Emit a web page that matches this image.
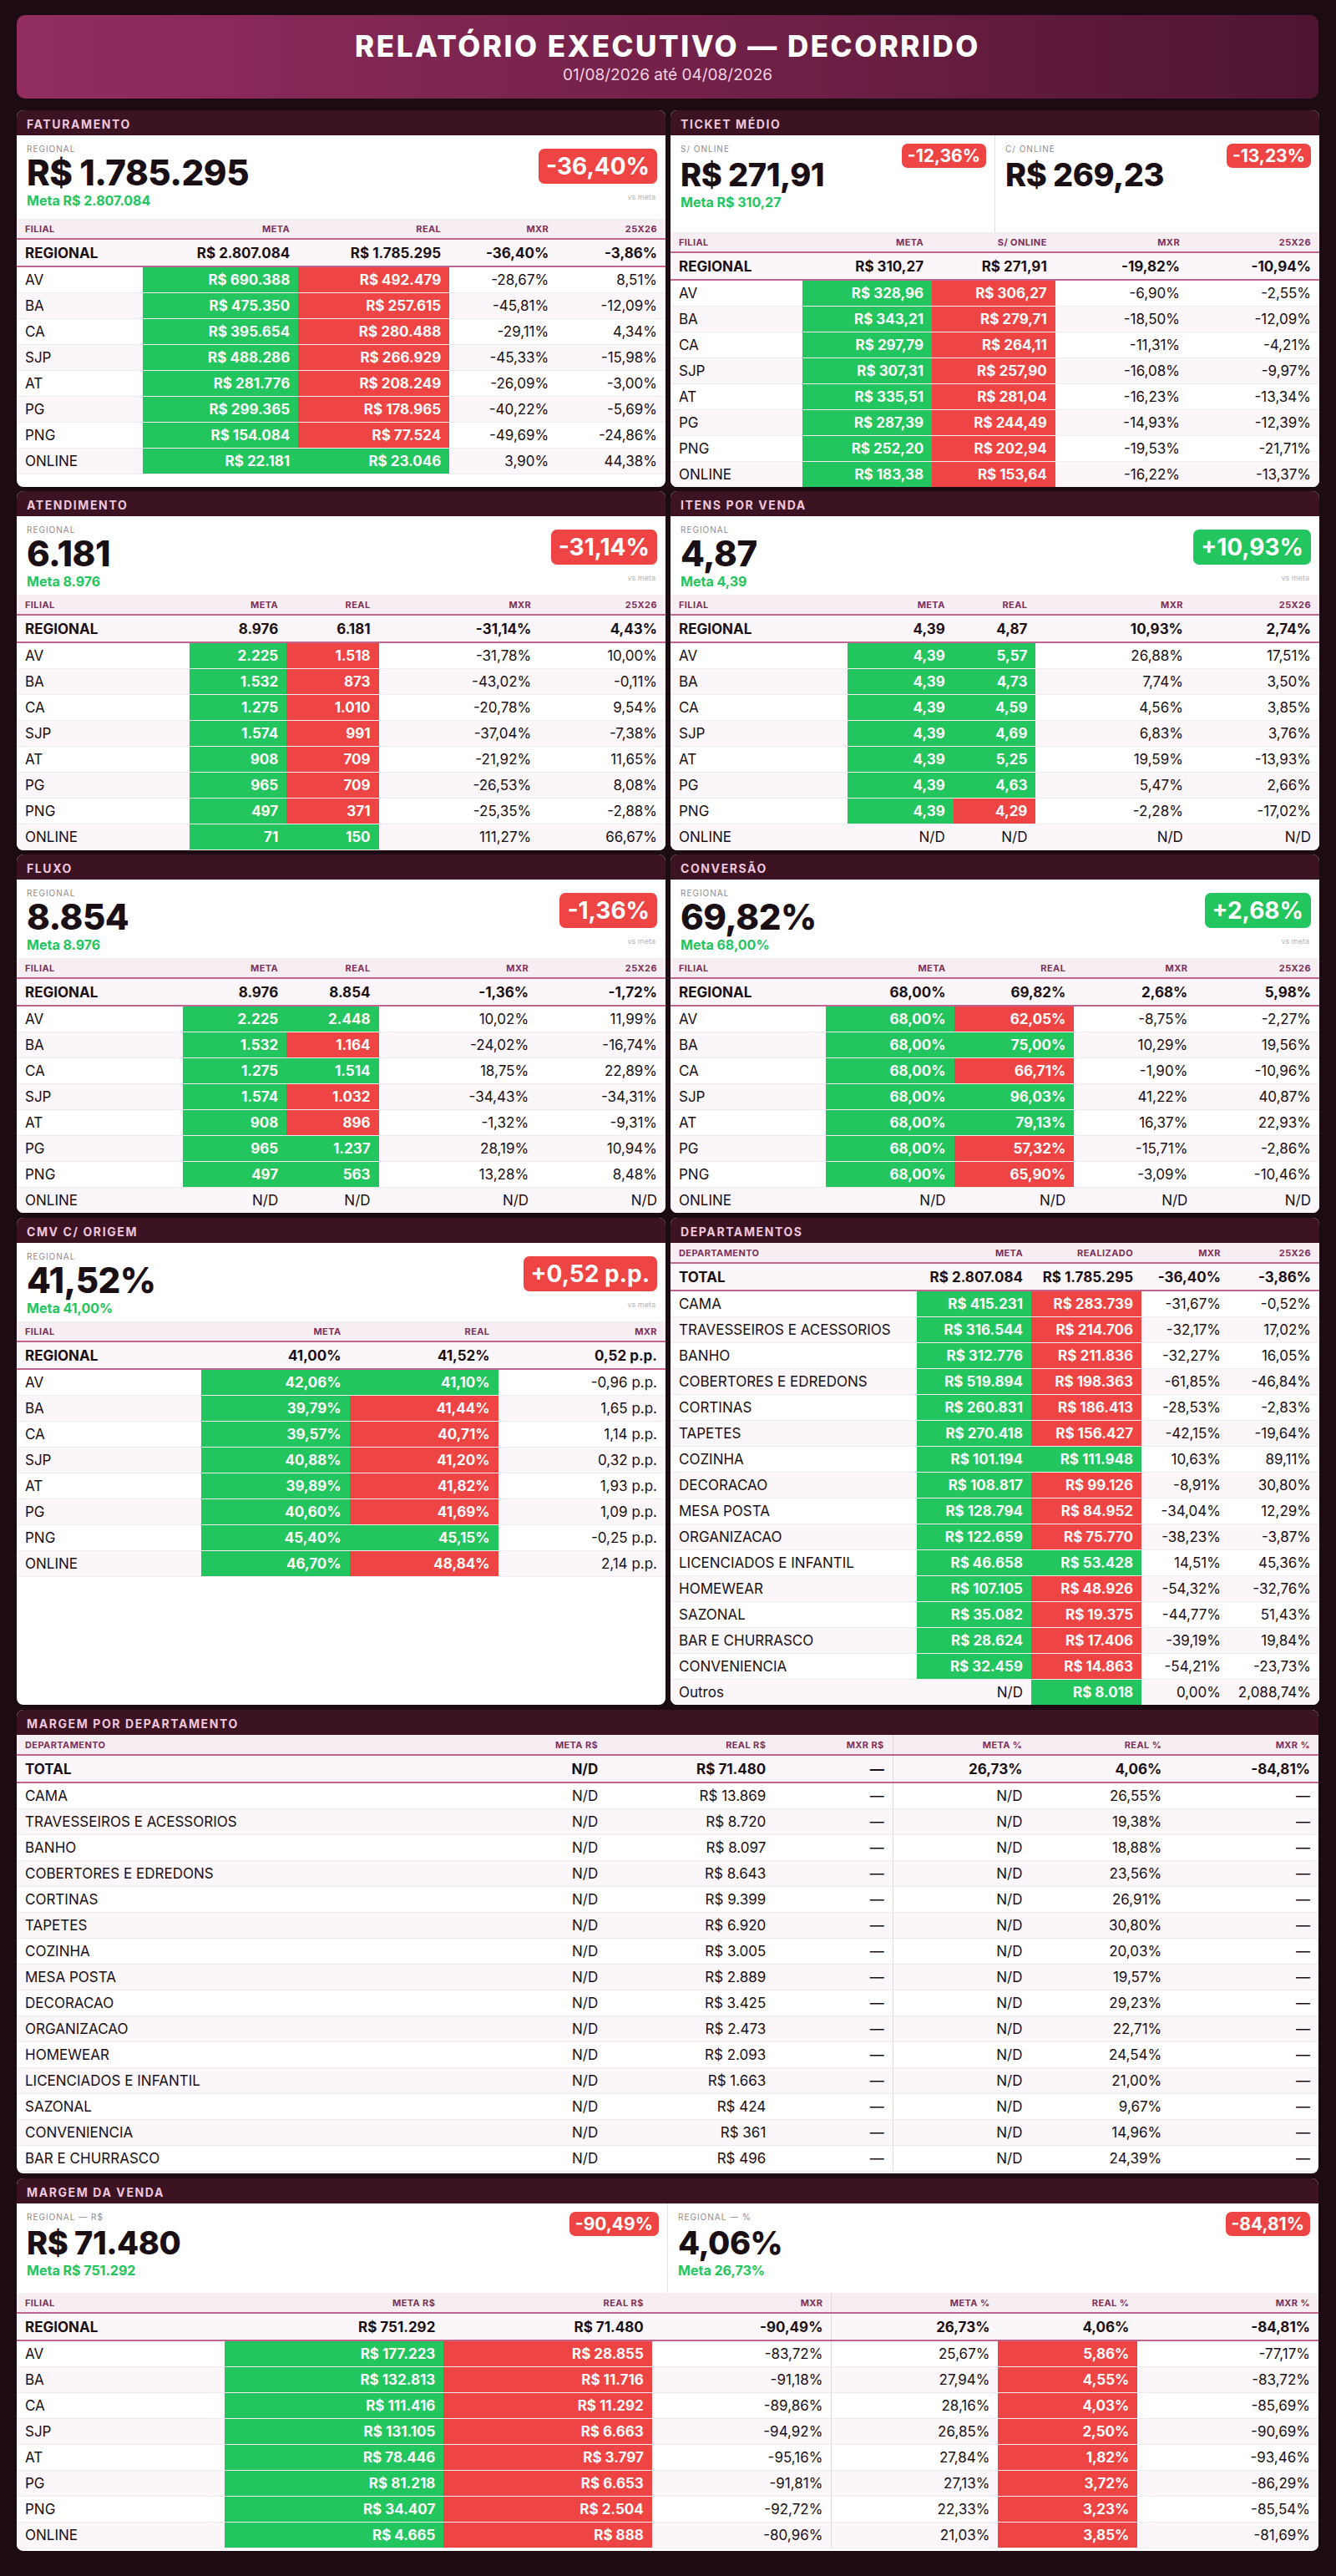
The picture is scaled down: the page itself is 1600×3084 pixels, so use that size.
<!DOCTYPE html>
<html><head><meta charset="utf-8">
<script src="https://cdn.jsdelivr.net/npm/chart.js@4.4.1/dist/chart.umd.min.js"></script>
<style>
*{box-sizing:border-box;margin:0;padding:0}
body{width:1600px;height:3084px;background:#1d0b13;font-family:Inter,"Noto Sans",sans-serif;color:#1a0f14}
#hdr{position:absolute;left:20px;top:18px;width:1559px;height:100px;border-radius:10px;background:linear-gradient(90deg,#922d60,#6e1f45 60%,#4e1530);text-align:center;color:#fff}
#hdr h1{font-size:35px;font-weight:800;letter-spacing:2.5px;margin-top:16px}
#hdr p{font-size:19px;color:#f1d3e2;margin-top:2px}
.panel{position:absolute;background:#fff;border-radius:8px;overflow:hidden}
.ph{height:30px;background:#3b1323;color:#f0c6da;font-size:14px;font-weight:700;letter-spacing:1.6px;padding:8px 12px 0}
.kpis{display:flex}
.kpi{flex:1;position:relative;padding:10px 12px}
.kpi+.kpi{border-left:1px solid #e8dde3}
.lab{font-size:10px;color:#8f8a8d;letter-spacing:1px}
.val{font-size:42px;font-weight:800;line-height:46px;letter-spacing:-.5px}
.meta{font-size:16px;font-weight:700;color:#22c55e}
.badge{position:absolute;right:10px;top:16px;color:#fff;font-weight:700;border-radius:7px;padding:4px 9px;font-size:28px}
.badge.s{font-size:21px;top:10px;padding:2px 7px}
.vs{position:absolute;right:12px;top:68px;font-size:9px;color:#b9b4b7}
table{width:100%;border-collapse:collapse;table-layout:fixed}
th{height:24px;background:#f6eef3;color:#7d3058;font-size:11px;font-weight:700;letter-spacing:.4px;text-align:right;padding:0 10px;border-bottom:2px solid #c2648f}
td{height:31px;font-size:17px;text-align:right;padding:0 10px;white-space:nowrap;border-bottom:1px solid #f1eaee}
tr.reg td{background:#f4e8ef;font-weight:700;height:33px;border-bottom:2px solid #c2648f}
tr:nth-child(even) td{background:#fbf6f9}
th:first-child,td:first-child{text-align:left}
td.g{background:#22c55e!important;color:#fff;font-weight:700}
td.r{background:#ef4444!important;color:#fff;font-weight:700}
.dv{border-left:1px solid #e2d6dc}
</style></head><body>
<div id="hdr"><h1>RELATÓRIO EXECUTIVO — DECORRIDO</h1><p>01/08/2026 até 04/08/2026</p></div>
<div id="root"></div>
<script>
const filiais = ['AV','BA','CA','SJP','AT','PG','PNG','ONLINE'];

const fatMeta = [690388,475350,395654,488286,281776,299365,154084,22181];
const fatReal = [492479,257615,280488,266929,208249,178965,77524,23046];
const fatMxr = [-28.67,-45.81,-29.11,-45.33,-26.09,-40.22,-49.69,3.90];
const fat2526 = [8.51,-12.09,4.34,-15.98,-3.00,-5.69,-24.86,44.38];

const tktMeta = [328.96,343.21,297.79,307.31,335.51,287.39,252.20,183.38];
const tktReal = [306.27,279.71,264.11,257.90,281.04,244.49,202.94,153.64];
const tktMxr = [-6.90,-18.50,-11.31,-16.08,-16.23,-14.93,-19.53,-16.22];
const tkt2526 = [-2.55,-12.09,-4.21,-9.97,-13.34,-12.39,-21.71,-13.37];

const atdMeta = [2225,1532,1275,1574,908,965,497,71];
const atdReal = [1518,873,1010,991,709,709,371,150];
const atdMxr = [-31.78,-43.02,-20.78,-37.04,-21.92,-26.53,-25.35,111.27];
const atd2526 = [10.00,-0.11,9.54,-7.38,11.65,8.08,-2.88,66.67];

const ipvMeta = [4.39,4.39,4.39,4.39,4.39,4.39,4.39,null];
const ipvReal = [5.57,4.73,4.59,4.69,5.25,4.63,4.29,null];
const ipvMxr = [26.88,7.74,4.56,6.83,19.59,5.47,-2.28,null];
const ipv2526 = [17.51,3.50,3.85,3.76,-13.93,2.66,-17.02,null];

const fluMeta = [2225,1532,1275,1574,908,965,497,null];
const fluReal = [2448,1164,1514,1032,896,1237,563,null];
const fluMxr = [10.02,-24.02,18.75,-34.43,-1.32,28.19,13.28,null];
const flu2526 = [11.99,-16.74,22.89,-34.31,-9.31,10.94,8.48,null];

const cnvMeta = [68,68,68,68,68,68,68,null];
const cnvReal = [62.05,75.00,66.71,96.03,79.13,57.32,65.90,null];
const cnvMxr = [-8.75,10.29,-1.90,41.22,16.37,-15.71,-3.09,null];
const cnv2526 = [-2.27,19.56,-10.96,40.87,22.93,-2.86,-10.46,null];

const cmvMeta = [42.06,39.79,39.57,40.88,39.89,40.60,45.40,46.70];
const cmvReal = [41.10,41.44,40.71,41.20,41.82,41.69,45.15,48.84];
const cmvMxr = [-0.96,1.65,1.14,0.32,1.93,1.09,-0.25,2.14];

const departamentos = ['CAMA','TRAVESSEIROS E ACESSORIOS','BANHO','COBERTORES E EDREDONS','CORTINAS','TAPETES','COZINHA','DECORACAO','MESA POSTA','ORGANIZACAO','LICENCIADOS E INFANTIL','HOMEWEAR','SAZONAL','BAR E CHURRASCO','CONVENIENCIA','Outros'];
const depMeta = [415231,316544,312776,519894,260831,270418,101194,108817,128794,122659,46658,107105,35082,28624,32459,null];
const depReal = [283739,214706,211836,198363,186413,156427,111948,99126,84952,75770,53428,48926,19375,17406,14863,8018];
const depMxr = [-31.67,-32.17,-32.27,-61.85,-28.53,-42.15,10.63,-8.91,-34.04,-38.23,14.51,-54.32,-44.77,-39.19,-54.21,0.00];
const dep2526 = [-0.52,17.02,16.05,-46.84,-2.83,-19.64,89.11,30.80,12.29,-3.87,45.36,-32.76,51.43,19.84,-23.73,2088.74];

const mgDeps = ['CAMA','TRAVESSEIROS E ACESSORIOS','BANHO','COBERTORES E EDREDONS','CORTINAS','TAPETES','COZINHA','MESA POSTA','DECORACAO','ORGANIZACAO','HOMEWEAR','LICENCIADOS E INFANTIL','SAZONAL','CONVENIENCIA','BAR E CHURRASCO'];
const mgDepReal = [13869,8720,8097,8643,9399,6920,3005,2889,3425,2473,2093,1663,424,361,496];
const mgDepPct = [26.55,19.38,18.88,23.56,26.91,30.80,20.03,19.57,29.23,22.71,24.54,21.00,9.67,14.96,24.39];

const mvMeta = [177223,132813,111416,131105,78446,81218,34407,4665];
const mvReal = [28855,11716,11292,6663,3797,6653,2504,888];
const mvMxr = [-83.72,-91.18,-89.86,-94.92,-95.16,-91.81,-92.72,-80.96];
const mvMetaPct = [25.67,27.94,28.16,26.85,27.84,27.13,22.33,21.03];
const mvRealPct = [5.86,4.55,4.03,2.50,1.82,3.72,3.23,3.85];
const mvMxrPct = [-77.17,-83.72,-85.69,-90.69,-93.46,-86.29,-85.54,-81.69];

function grp(s, sep){ return s.replace(/\B(?=(\d{3})+(?!\d))/g, sep); }
function int(n){ return n==null ? 'N/D' : (n<0?'-':'') + grp(String(Math.abs(Math.round(n))), '.'); }
function brl(n){ return n==null ? 'N/D' : 'R$ ' + int(n); }
function dec(n){ if(n==null) return 'N/D'; const p=Math.abs(n).toFixed(2).split('.'); return (n<0?'-':'') + grp(p[0], ',') + ',' + p[1]; }
function pct(n){ return n==null ? 'N/D' : dec(n) + '%'; }
function brlD(n){ return n==null ? 'N/D' : 'R$ ' + dec(n); }
function pp(n){ return (n>0?'':'') + dec(n) + ' p.p.'; }

const root = document.getElementById('root');
function panel(x, y, w, h, title, inner){
  const d = document.createElement('div');
  d.className = 'panel';
  d.style.cssText = `left:${x}px;top:${y}px;width:${w}px;height:${h}px`;
  d.innerHTML = `<div class="ph">${title}</div>` + inner;
  root.appendChild(d);
}
function kpi(label, value, meta, badge, good, small, h){
  return `<div class="kpi" style="height:${h}px"><div class="lab">${label}</div><div class="val" style="${small?'font-size:38px;margin-top:2px':''}">${value}</div>` +
    (meta ? `<div class="meta">${meta}</div>` : '') +
    `<div class="badge${small?' s':''}" style="background:${good?'#22c55e':'#ef4444'}">${badge}</div>` +
    (small ? '' : '<div class="vs">vs meta</div>') + '</div>';
}
// cols: [label,width%,divider?]; reg: texts; rows: arrays of [text,cls]
function table(cols, reg, rows){
  let s = '<table><colgroup>' + cols.map(c=>`<col style="width:${c[1]}%">`).join('') + '</colgroup><tr>' +
    cols.map(c=>`<th class="${c[2]?'dv':''}">${c[0]}</th>`).join('') + '</tr>';
  s += '<tr class="reg">' + reg.map((t,i)=>`<td class="${cols[i][2]?'dv':''}">${t}</td>`).join('') + '</tr>';
  rows.forEach(r=>{ s += '<tr>' + r.map((c,i)=>`<td class="${c[1]||''} ${cols[i][2]?'dv':''}">${c[0]}</td>`).join('') + '</tr>'; });
  return s + '</table>';
}
function cls(meta, real, lowerBetter){
  if(real==null) return '';
  if(meta==null) return 'g';
  return (lowerBetter ? real<=meta : real>=meta) ? 'g' : 'r';
}
function stdRows(meta, real, mxr, yy, fm, lowerBetter){
  return filiais.map((f,i)=>[[f],[fm(meta[i]), meta[i]==null?'':'g'],[fm(real[i]), cls(meta[i],real[i],lowerBetter)],[pct(mxr[i])],[pct(yy[i])]]);
}
const L = 20, R = 803, W = 777;

// FATURAMENTO
panel(L,132,W,451,'FATURAMENTO',
  `<div class="kpis">${kpi('REGIONAL','R$ 1.785.295','Meta R$ 2.807.084','-36,40%',false,false,100)}</div>` +
  table([['FILIAL',19.4],['META',24],['REAL',23.3],['MXR',16.6],['25X26',16.7]],
    ['REGIONAL',brl(2807084),brl(1785295),pct(-36.40),pct(-3.86)], stdRows(fatMeta,fatReal,fatMxr,fat2526,brl)));

// TICKET MEDIO
panel(R,132,W,451,'TICKET MÉDIO',
  `<div class="kpis">${kpi('S/ ONLINE','R$ 271,91','Meta R$ 310,27','-12,36%',false,true,116)}${kpi('C/ ONLINE','R$ 269,23','','-13,23%',false,true,116)}</div>` +
  table([['FILIAL',20.3],['META',20],['S/ ONLINE',19],['MXR',20.5],['25X26',20.2]],
    ['REGIONAL',brlD(310.27),brlD(271.91),pct(-19.82),pct(-10.94)], stdRows(tktMeta,tktReal,tktMxr,tkt2526,brlD)));

// ATENDIMENTO
panel(L,588,W,430,'ATENDIMENTO',
  `<div class="kpis">${kpi('REGIONAL','6.181','Meta 8.976','-31,14%',false,false,94)}</div>` +
  table([['FILIAL',26.6],['META',15],['REAL',14.2],['MXR',24.8],['25X26',19.4]],
    ['REGIONAL',int(8976),int(6181),pct(-31.14),pct(4.43)], stdRows(atdMeta,atdReal,atdMxr,atd2526,int)));

// ITENS POR VENDA
panel(R,588,W,430,'ITENS POR VENDA',
  `<div class="kpis">${kpi('REGIONAL','4,87','Meta 4,39','+10,93%',true,false,94)}</div>` +
  table([['FILIAL',27.3],['META',16.3],['REAL',12.7],['MXR',24],['25X26',19.7]],
    ['REGIONAL',dec(4.39),dec(4.87),pct(10.93),pct(2.74)], stdRows(ipvMeta,ipvReal,ipvMxr,ipv2526,dec)));

// FLUXO
panel(L,1023,W,429,'FLUXO',
  `<div class="kpis">${kpi('REGIONAL','8.854','Meta 8.976','-1,36%',false,false,94)}</div>` +
  table([['FILIAL',25.6],['META',16],['REAL',14.2],['MXR',24.4],['25X26',19.8]],
    ['REGIONAL',int(8976),int(8854),pct(-1.36),pct(-1.72)], stdRows(fluMeta,fluReal,fluMxr,flu2526,int)));

// CONVERSAO
panel(R,1023,W,429,'CONVERSÃO',
  `<div class="kpis">${kpi('REGIONAL','69,82%','Meta 68,00%','+2,68%',true,false,94)}</div>` +
  table([['FILIAL',23.9],['META',19.8],['REAL',18.5],['MXR',18.8],['25X26',19]],
    ['REGIONAL',pct(68),pct(69.82),pct(2.68),pct(5.98)], stdRows(cnvMeta,cnvReal,cnvMxr,cnv2526,pct)));

// CMV
panel(L,1458,W,583,'CMV C/ ORIGEM',
  `<div class="kpis">${kpi('REGIONAL','41,52%','Meta 41,00%','+0,52 p.p.',false,false,94)}</div>` +
  table([['FILIAL',28.4],['META',22.9],['REAL',22.9],['MXR',25.8]],
    ['REGIONAL',pct(41),pct(41.52),pp(0.52)],
    filiais.map((f,i)=>[[f],[pct(cmvMeta[i]),'g'],[pct(cmvReal[i]),cls(cmvMeta[i],cmvReal[i],true)],[pp(cmvMxr[i])]])));

// DEPARTAMENTOS
panel(R,1458,W,583,'DEPARTAMENTOS',
  table([['DEPARTAMENTO',38],['META',17.6],['REALIZADO',17],['MXR',13.5],['25X26',13.9]],
    ['TOTAL',brl(2807084),brl(1785295),pct(-36.40),pct(-3.86)],
    departamentos.map((d,i)=>[[d],[brl(depMeta[i]),depMeta[i]==null?'':'g'],[brl(depReal[i]),cls(depMeta[i],depReal[i])],[pct(depMxr[i])],[pct(dep2526[i])]])));

// MARGEM POR DEPARTAMENTO
panel(L,2047,1559,555,'MARGEM POR DEPARTAMENTO',
  table([['DEPARTAMENTO',35],['META R$',10.3],['REAL R$',12.9],['MXR R$',9.1],['META %',10.6,1],['REAL %',10.7],['MXR %',11.4]],
    ['TOTAL','N/D',brl(71480),'—',pct(26.73),pct(4.06),pct(-84.81)],
    mgDeps.map((d,i)=>[[d],['N/D'],[brl(mgDepReal[i])],['—'],['N/D'],[pct(mgDepPct[i])],['—']])));

// MARGEM DA VENDA
panel(L,2608,1559,446,'MARGEM DA VENDA',
  `<div class="kpis">${kpi('REGIONAL — R$','R$ 71.480','Meta R$ 751.292','-90,49%',false,true,107)}${kpi('REGIONAL — %','4,06%','Meta 26,73%','-84,81%',false,true,107)}</div>` +
  table([['FILIAL',16],['META R$',16.8],['REAL R$',16],['MXR',13.8],['META %',12.8,1],['REAL %',10.7],['MXR %',13.9]],
    ['REGIONAL',brl(751292),brl(71480),pct(-90.49),pct(26.73),pct(4.06),pct(-84.81)],
    filiais.map((f,i)=>[[f],[brl(mvMeta[i]),'g'],[brl(mvReal[i]),cls(mvMeta[i],mvReal[i])],[pct(mvMxr[i])],[pct(mvMetaPct[i])],[pct(mvRealPct[i]),cls(mvMetaPct[i],mvRealPct[i])],[pct(mvMxrPct[i])]])));
</script>
</body></html>
